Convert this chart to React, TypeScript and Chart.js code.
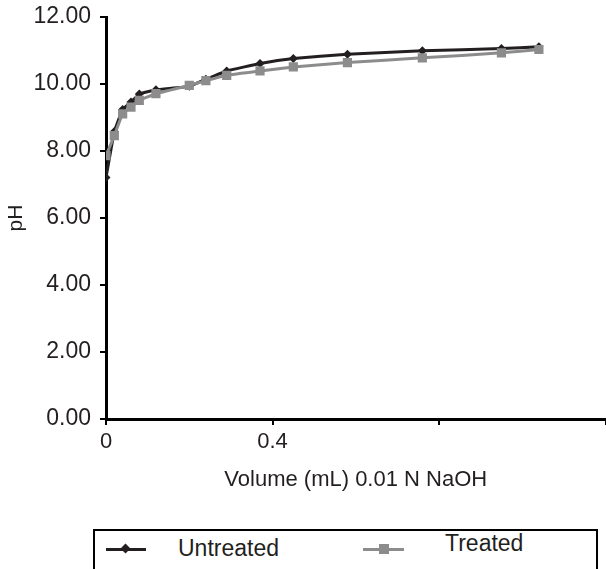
import React, { useEffect, useRef } from "react";
import { Chart, registerables } from "chart.js";

Chart.register(...registerables);

// ---- data ----
const volumes = [0, 0.02, 0.04, 0.06, 0.08, 0.12, 0.2, 0.24, 0.29, 0.37, 0.45, 0.58, 0.76, 0.95, 1.04];
const untreatedPH = [7.21, 8.58, 9.24, 9.46, 9.7, 9.83, 9.93, 10.14, 10.39, 10.61, 10.76, 10.89, 10.99, 11.06, 11.11];
const treatedPH = [7.86, 8.46, 9.11, 9.31, 9.51, 9.71, 9.96, 10.1, 10.26, 10.39, 10.51, 10.64, 10.78, 10.93, 11.03];
const xTickValues = [0, 0.4, 0.8, 1.2];
const xTickLabels = ["0", "0.4", "", ""];
const seriesNames = ["Untreated", "Treated"];
const xTitle = "Volume (mL) 0.01 N NaOH";
const yTitle = "pH";

const TEXT = "#231f20";
const DARK = "#231f20";
const GRAY = "#8c8c8c";
const FONT = "'Liberation Sans', Arial, sans-serif";

export default function App() {
  const canvasRef = useRef<HTMLCanvasElement | null>(null);

  useEffect(() => {
    const canvas = canvasRef.current;
    if (!canvas) return;
    const chart = new Chart(canvas, {
      type: "line",
      data: {
        datasets: [
          {
            label: seriesNames[0],
            data: volumes.map((v, i) => ({ x: v, y: untreatedPH[i] })),
            borderColor: DARK,
            backgroundColor: DARK,
            borderWidth: 3,
            pointStyle: "rectRot",
            pointRadius: 4.5,
            pointBorderWidth: 0,
            pointBackgroundColor: DARK,
            tension: 0.1,
            order: 1,
          },
          {
            label: seriesNames[1],
            data: volumes.map((v, i) => ({ x: v, y: treatedPH[i] })),
            borderColor: GRAY,
            backgroundColor: GRAY,
            borderWidth: 3,
            pointStyle: "rect",
            pointRadius: 6.5,
            pointBorderWidth: 0,
            pointBackgroundColor: GRAY,
            tension: 0.1,
            order: 0,
          },
        ],
      },
      options: {
        responsive: false,
        animation: false,
        layout: { padding: { top: 17, bottom: 72, left: 0, right: 0 } },
        plugins: { legend: { display: false }, tooltip: { enabled: false } },
        scales: {
          x: {
            type: "linear",
            min: 0,
            max: 1.2,
            afterBuildTicks: (scale: any) => {
              scale.ticks = xTickValues.map((v) => ({ value: v }));
            },
            afterFit: (scale: any) => {
              scale.height = 78;
            },
            ticks: {
              callback: (_v: any, i: number) => xTickLabels[i],
              font: { family: FONT, size: 22 },
              color: TEXT,
              padding: 4,
              maxRotation: 0,
              autoSkip: false,
            },
            grid: { drawOnChartArea: false, drawTicks: true, tickLength: 6, color: "#000", lineWidth: 2 },
            border: { color: "#000", width: 3 },
            title: {
              display: true,
              text: xTitle,
              font: { family: FONT, size: 22 },
              color: TEXT,
              padding: { top: 4, bottom: 4 },
            },
          },
          y: {
            min: 0,
            max: 12,
            afterFit: (scale: any) => {
              scale.width = 106;
              scale.paddingTop = 0;
              scale.paddingBottom = 0;
            },
            ticks: {
              stepSize: 2,
              callback: (v: any) => Number(v).toFixed(2),
              font: { family: FONT, size: 23 },
              color: TEXT,
              padding: 9,
            },
            grid: { drawOnChartArea: false, drawTicks: true, tickLength: 6, color: "#000", lineWidth: 2 },
            border: { color: "#000", width: 3 },
            title: {
              display: true,
              text: yTitle,
              font: { family: FONT, size: 21 },
              color: TEXT,
              padding: { top: 4, bottom: 4 },
            },
          },
        },
      },
    });
    return () => chart.destroy();
  }, []);

  const textStyle: React.CSSProperties = {
    position: "absolute",
    fontFamily: FONT,
    fontSize: 23,
    lineHeight: "23px",
    color: TEXT,
    whiteSpace: "nowrap",
  };

  return (
    <div style={{ position: "absolute", left: 0, top: 0, width: 606, height: 569, overflow: "hidden", background: "#fff" }}>
      <canvas ref={canvasRef} width={612} height={569} style={{ position: "absolute", left: 0, top: 0 }} />
      <div
        style={{
          position: "absolute",
          left: 93,
          top: 529,
          width: 505,
          height: 70,
          border: "2px solid #000",
          boxSizing: "border-box",
          background: "#fff",
        }}
      />
      {/* Untreated sample */}
      <div style={{ position: "absolute", left: 106, top: 548, width: 40, height: 3, background: DARK }} />
      <div
        style={{
          position: "absolute",
          left: 122,
          top: 545,
          width: 7,
          height: 7,
          background: DARK,
          transform: "rotate(45deg)",
        }}
      />
      <div style={{ ...textStyle, left: 178, top: 537 }}>{seriesNames[0]}</div>
      {/* Treated sample */}
      <div style={{ position: "absolute", left: 363, top: 548, width: 41, height: 3, background: GRAY }} />
      <div style={{ position: "absolute", left: 379, top: 544, width: 10, height: 10, background: GRAY }} />
      <div style={{ ...textStyle, left: 445, top: 532 }}>{seriesNames[1]}</div>
    </div>
  );
}
